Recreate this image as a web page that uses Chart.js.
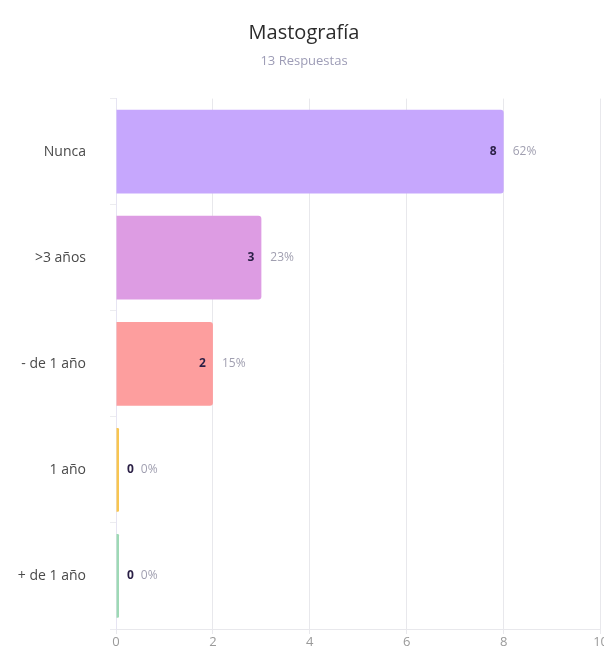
<!DOCTYPE html>
<html>
<head>
<meta charset="utf-8">
<script src="https://cdn.jsdelivr.net/npm/chart.js@4"></script>
<style>
  html, body { margin: 0; padding: 0; background: #fff; overflow: hidden; }
  #wrap { position: relative; width: 608px; height: 652px; }
</style>
</head>
<body>
<div id="wrap"><canvas id="c"></canvas></div>
<script>
const titleText = 'Mastografía';
const subtitleText = '13 Respuestas';
const categories = ['Nunca', '>3 años', '- de 1 año', '1 año', '+ de 1 año'];
const counts = [8, 3, 2, 0, 0];
const barColors = ['#c6a7fd', '#dd9ce3', '#fd9e9e', '#f8c550', '#9ed9b5'];
const xTicks = [0, 2, 4, 6, 8, 10];

const FONT = '"Open Sans", "Noto Sans", sans-serif';
const total = counts.reduce((a, b) => a + b, 0);

const valueLabels = {
  id: 'valueLabels',
  afterDatasetsDraw(chart) {
    const ctx = chart.ctx;
    const meta = chart.getDatasetMeta(0);
    ctx.save();
    ctx.textBaseline = 'middle';
    meta.data.forEach((bar, i) => {
      const v = counts[i];
      const pct = Math.round(v / total * 100) + '%';
      const y = bar.y;
      ctx.font = 'bold 12px ' + FONT;
      ctx.fillStyle = '#2a1f45';
      if (v > 0) {
        ctx.textAlign = 'right';
        ctx.fillText(String(v), bar.x - 7, y);
        ctx.textAlign = 'left';
        ctx.font = '12px ' + FONT;
        ctx.fillStyle = '#a09fb0';
        ctx.fillText(pct, bar.x + 9, y);
      } else {
        ctx.textAlign = 'left';
        const vx = bar.x + 8;
        ctx.fillText(String(v), vx, y);
        const w = ctx.measureText(String(v)).width;
        ctx.font = '12px ' + FONT;
        ctx.fillStyle = '#a09fb0';
        ctx.fillText(pct, vx + w + 7, y);
      }
    });
    ctx.restore();
  }
};

new Chart(document.getElementById('c'), {
  type: 'bar',
  data: {
    labels: categories,
    datasets: [{
      data: counts,
      backgroundColor: barColors,
      borderRadius: 3,
      borderSkipped: 'start',
      minBarLength: 3,
      categoryPercentage: 1,
      barPercentage: 0.79
    }]
  },
  options: {
    indexAxis: 'y',
    responsive: true,
    maintainAspectRatio: false,
    animation: false,
    layout: { padding: { top: 0, right: 0, bottom: 0, left: 0 } },
    plugins: {
      legend: { display: false },
      tooltip: { enabled: false },
      title: {
        display: true,
        text: titleText,
        color: '#2b2b2b',
        font: { family: FONT, size: 20, weight: 'normal' },
        padding: { top: 21, bottom: 4 }
      },
      subtitle: {
        display: true,
        text: subtitleText,
        color: '#9d9cb6',
        font: { family: FONT, size: 13, weight: 'normal' },
        padding: { top: 4, bottom: 30 }
      }
    },
    scales: {
      x: {
        min: 0,
        max: 10,
        afterBuildTicks(scale) { scale.ticks = xTicks.map(v => ({ value: v })); },
        afterFit(scale) { scale.height = 23; },
        grid: { color: '#e8e8ec', tickLength: 5, drawTicks: true },
        border: { color: '#e8e8ec' },
        ticks: { color: '#9a9a9a', font: { family: FONT, size: 13 }, padding: 0 }
      },
      y: {
        afterFit(scale) { scale.width = 116; scale.paddingTop = 0; scale.paddingBottom = 0; },
        grid: { drawOnChartArea: false, color: '#ececf0', tickLength: 6 },
        border: { color: '#e6e4f2' },
        ticks: { color: '#4a4a4a', font: { family: FONT, size: 14 }, padding: 24 }
      }
    }
  },
  plugins: [valueLabels]
});
</script>
</body>
</html>
